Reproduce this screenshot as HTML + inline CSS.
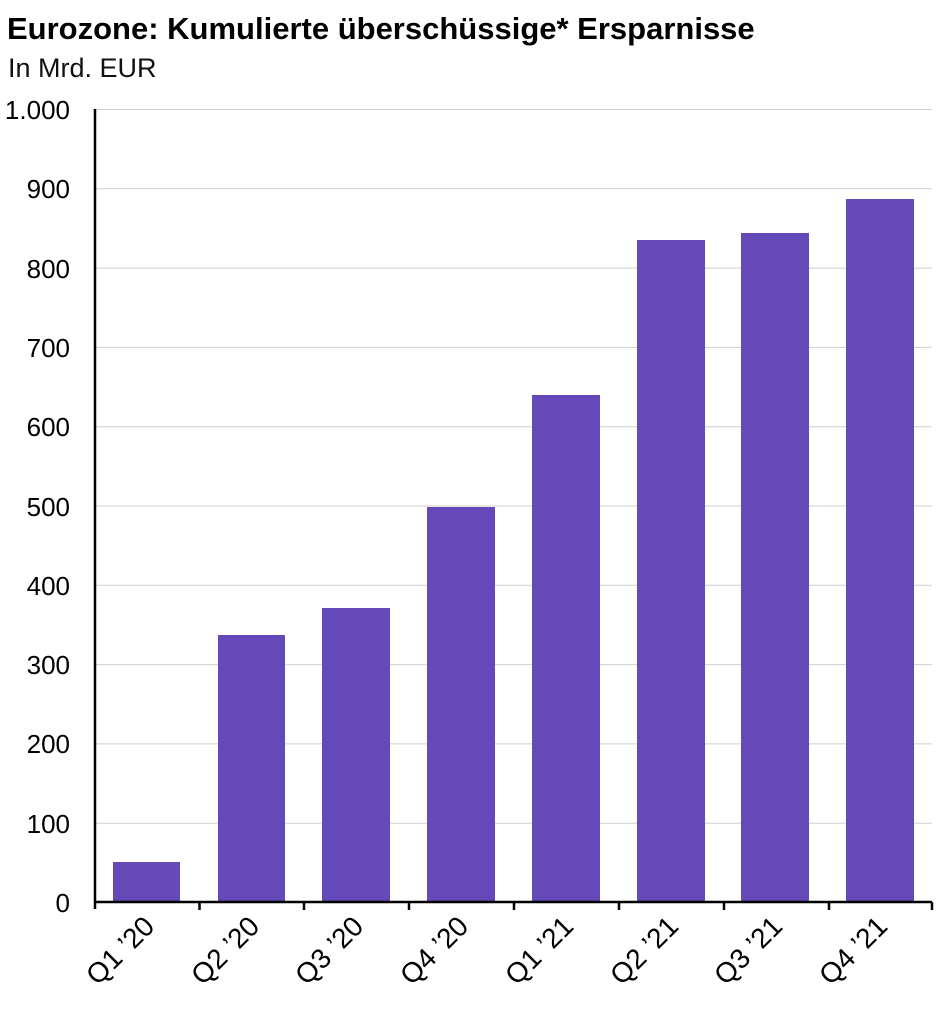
<!DOCTYPE html><html><head><style>body{margin:0;background:#fff}</style></head><body>
<svg width="939" height="1006" xmlns="http://www.w3.org/2000/svg" font-family="Liberation Sans, Arial, sans-serif">
<text x="7" y="39" font-size="31" font-weight="bold" fill="#000">Eurozone: Kumulierte überschüssige* Ersparnisse</text>
<text x="8" y="77" font-size="27" fill="#111">In Mrd. EUR</text>
<g stroke="#cfcfcf" stroke-width="1">
<line x1="95" x2="932" y1="109.5" y2="109.5"/><line x1="95" x2="932" y1="188.8" y2="188.8"/><line x1="95" x2="932" y1="268.1" y2="268.1"/><line x1="95" x2="932" y1="347.4" y2="347.4"/><line x1="95" x2="932" y1="426.7" y2="426.7"/><line x1="95" x2="932" y1="506" y2="506"/><line x1="95" x2="932" y1="585.3" y2="585.3"/><line x1="95" x2="932" y1="664.6" y2="664.6"/><line x1="95" x2="932" y1="743.9" y2="743.9"/><line x1="95" x2="932" y1="823.2" y2="823.2"/>
</g>
<g font-size="26" fill="#000" text-anchor="end">
<text x="70" y="119">1.000</text><text x="70" y="198">900</text><text x="70" y="278">800</text><text x="70" y="357">700</text><text x="70" y="436">600</text><text x="70" y="516">500</text><text x="70" y="595">400</text><text x="70" y="674">300</text><text x="70" y="753">200</text><text x="70" y="833">100</text><text x="70" y="912">0</text>
</g>
<g fill="#6649b8">
<rect x="113" y="862" width="67" height="40"/>
<rect x="218" y="635" width="67" height="267"/>
<rect x="322" y="608" width="68" height="294"/>
<rect x="427" y="507" width="68" height="395"/>
<rect x="532" y="395" width="68" height="507"/>
<rect x="637" y="240" width="68" height="662"/>
<rect x="741" y="233" width="68" height="669"/>
<rect x="846" y="199" width="68" height="703"/>
</g>
<g stroke="#000" stroke-width="2.5">
<line x1="95" y1="109" x2="95" y2="909"/>
<line x1="94" y1="902" x2="932" y2="902"/>
<line x1="199.5" y1="902" x2="199.5" y2="910"/><line x1="304" y1="902" x2="304" y2="910"/><line x1="409" y1="902" x2="409" y2="910"/><line x1="514" y1="902" x2="514" y2="910"/><line x1="619" y1="902" x2="619" y2="910"/><line x1="724" y1="902" x2="724" y2="910"/><line x1="829" y1="902" x2="829" y2="910"/><line x1="932" y1="902" x2="932" y2="910"/>
</g>
<g font-size="28" fill="#000" text-anchor="end">
<text transform="translate(156,928) rotate(-45)">Q1 ’20</text>
<text transform="translate(261,928) rotate(-45)">Q2 ’20</text>
<text transform="translate(365,928) rotate(-45)">Q3 ’20</text>
<text transform="translate(470,928) rotate(-45)">Q4 ’20</text>
<text transform="translate(575,928) rotate(-45)">Q1 ’21</text>
<text transform="translate(680,928) rotate(-45)">Q2 ’21</text>
<text transform="translate(784,928) rotate(-45)">Q3 ’21</text>
<text transform="translate(889,928) rotate(-45)">Q4 ’21</text>
</g>
</svg>
</body></html>
